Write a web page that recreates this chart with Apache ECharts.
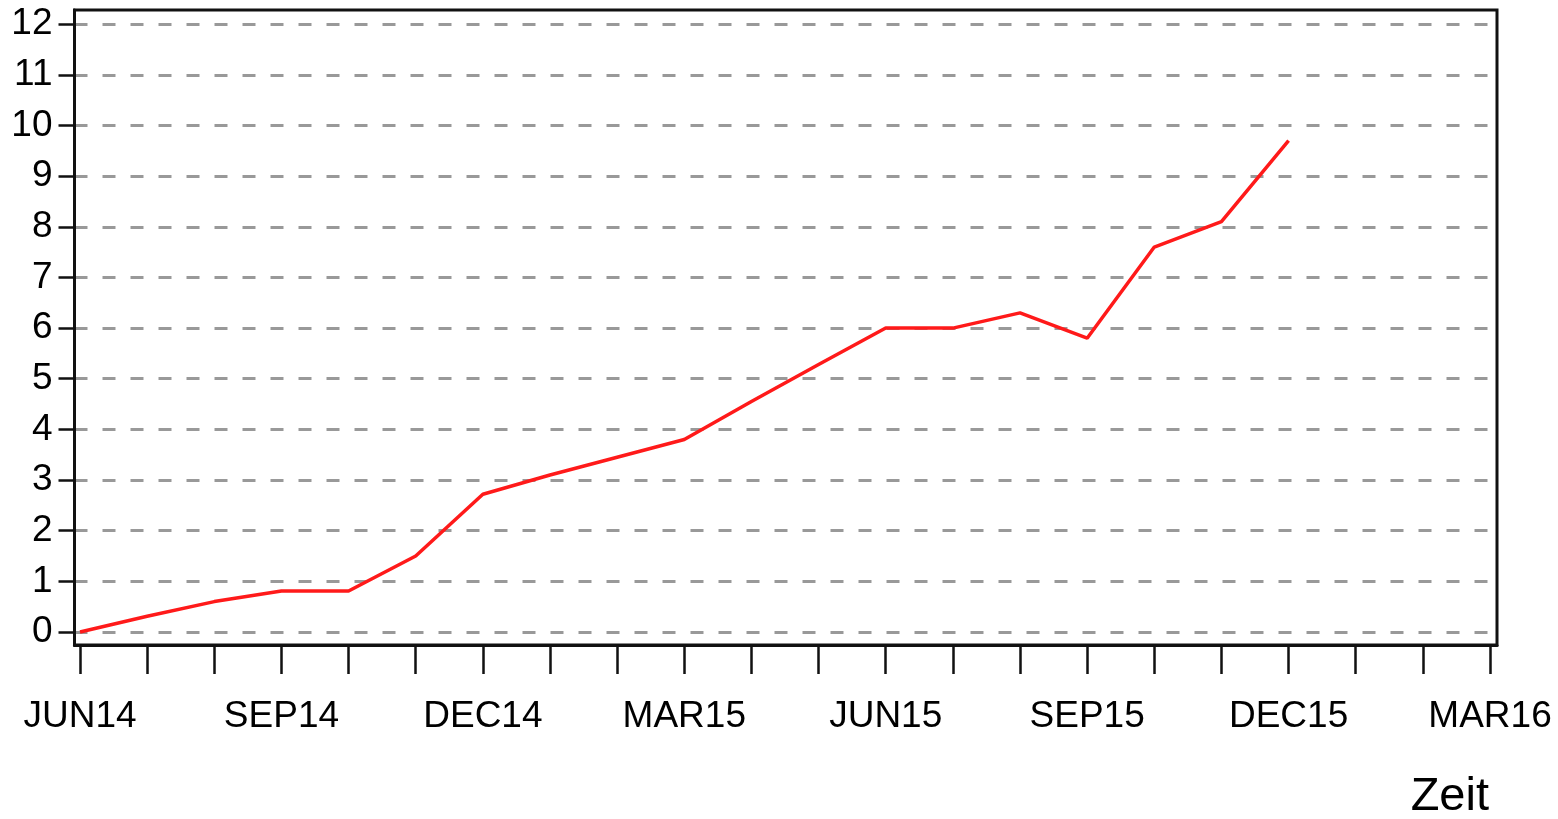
<!DOCTYPE html>
<html>
<head>
<meta charset="utf-8">
<script src="https://cdn.jsdelivr.net/npm/echarts@6/dist/echarts.min.js"></script>
<style>
  html, body { margin: 0; padding: 0; background: #fff; }
  #chart { width: 1558px; height: 819px; }
</style>
</head>
<body>
<div id="chart"></div>
<script>
// months on the x axis, JUN14 .. MAR16
var months = ['JUN14', 'JUL14', 'AUG14', 'SEP14', 'OCT14', 'NOV14', 'DEC14',
    'JAN15', 'FEB15', 'MAR15', 'APR15', 'MAY15', 'JUN15', 'JUL15', 'AUG15',
    'SEP15', 'OCT15', 'NOV15', 'DEC15', 'JAN16', 'FEB16', 'MAR16'];
// values, one per month from JUN14 to DEC15
var values = [0, 0.31, 0.6, 0.81, 0.81, 1.5, 2.72, 3.1, 3.45, 3.8, 4.55, 5.28,
    6.0, 6.0, 6.3, 5.8, 7.6, 8.1, 9.7];
var yTicks = [0, 1, 2, 3, 4, 5, 6, 7, 8, 9, 10, 11, 12];
var labelMonths = ['JUN14', 'SEP14', 'DEC14', 'MAR15', 'JUN15', 'SEP15', 'DEC15', 'MAR16'];

var font = 'Liberation Sans, Arial, Helvetica, sans-serif';

var monthIdx = months.map(function (m, i) { return i; });
var labelIdx = labelMonths.map(function (m) { return months.indexOf(m); });
var seriesData = values.map(function (v, i) { return [i, v]; });

var chart = echarts.init(document.getElementById('chart'));
var option = {
    backgroundColor: '#fff',
    animation: false,
    title: {
        text: 'Zeit',
        right: 64,
        top: 769,
        textStyle: { fontFamily: font, fontSize: 47, fontWeight: 'normal', color: '#000' }
    },
    grid: {
        left: 74.5, right: 61, top: 10, bottom: 174,
        show: true, borderColor: '#111', borderWidth: 3
    },
    xAxis: {
        type: 'value',
        min: -0.082,
        max: 21.104,
        axisLine: { show: true, onZero: false, lineStyle: { color: '#111', width: 3 } },
        axisTick: {
            show: true, customValues: monthIdx, length: 29, inside: false,
            lineStyle: { color: '#111', width: 2.5 }
        },
        axisLabel: {
            customValues: labelIdx,
            margin: 53,
            fontFamily: font, fontSize: 37, color: '#000',
            formatter: function (v) { return months[Math.round(v)]; }
        },
        splitLine: { show: false }
    },
    yAxis: {
        type: 'value',
        min: -0.257,
        max: 12.28,
        axisLine: { show: true, onZero: false, lineStyle: { color: '#111', width: 3 } },
        axisTick: {
            show: true, customValues: yTicks, length: 16, inside: false,
            lineStyle: { color: '#111', width: 2.5 }
        },
        axisLabel: {
            customValues: yTicks,
            margin: 22,
            fontFamily: font, fontSize: 37, color: '#000'
        },
        splitLine: {
            show: true,
            lineStyle: { color: '#999', width: 3, type: [13, 15] }
        }
    },
    series: [{
        type: 'line',
        data: seriesData,
        symbol: 'none',
        lineStyle: { color: '#ff1a1a', width: 3.5 },
        z: 5
    }]
};
chart.setOption(option);
window.addEventListener('resize', chart.resize);
</script>
</body>
</html>
